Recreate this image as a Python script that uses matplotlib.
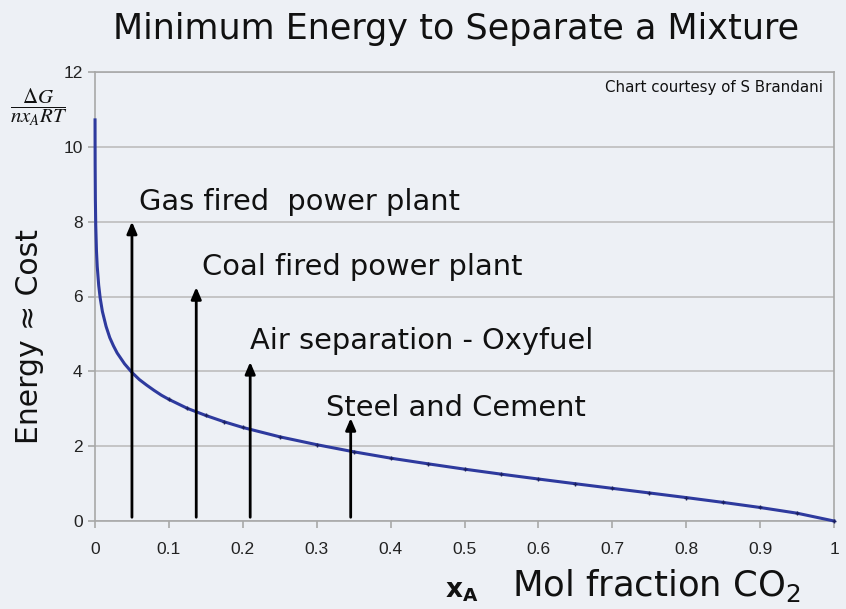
import matplotlib
matplotlib.use("Agg")
import matplotlib.pyplot as plt

# Curve values
x_vals = [0.00006, 0.0001, 0.0002, 0.0005, 0.001, 0.002, 0.003, 0.005, 0.007, 0.01,
          0.015, 0.02, 0.025, 0.03, 0.04, 0.05, 0.06, 0.07, 0.08, 0.09, 0.1,
          0.125, 0.15, 0.175, 0.2, 0.25, 0.3, 0.35, 0.4, 0.45, 0.5, 0.55, 0.6,
          0.65, 0.7, 0.75, 0.8, 0.85, 0.9, 0.95, 1.0]
y_vals = [10.72, 10.21, 9.52, 8.60, 7.91, 7.21, 6.81, 6.30, 5.96, 5.60,
          5.20, 4.90, 4.68, 4.49, 4.20, 3.97, 3.78, 3.63, 3.49, 3.36, 3.25,
          3.01, 2.82, 2.65, 2.50, 2.25, 2.04, 1.85, 1.68, 1.53, 1.386, 1.251, 1.122,
          0.996, 0.873, 0.750, 0.626, 0.497, 0.361, 0.209, 0.0]

# Annotated processes
labels = ["Gas fired  power plant", "Coal fired power plant",
          "Air separation - Oxyfuel", "Steel and Cement"]
arrow_x = [0.05, 0.137, 0.21, 0.346]
arrow_top = [8.0, 6.25, 4.25, 2.75]
label_x = [0.0595, 0.145, 0.21, 0.312]
label_y = [8.53, 6.79, 4.81, 3.02]

xticks = [0, 0.1, 0.2, 0.3, 0.4, 0.5, 0.6, 0.7, 0.8, 0.9, 1]
xticklabels = ["0", "0.1", "0.2", "0.3", "0.4", "0.5", "0.6", "0.7", "0.8", "0.9", "1"]
yticks = [0, 2, 4, 6, 8, 10, 12]

bg = "#EDF0F5"
W, H = 846, 609
fig = plt.figure(figsize=(W / 100, H / 100), dpi=100, facecolor=bg)
ax = fig.add_axes([95 / W, 1 - 521 / H, (834 - 95) / W, (521 - 72) / H], facecolor=bg)

ax.set_xlim(0, 1)
ax.set_ylim(0, 12)
ax.set_yticks(yticks)
ax.set_xticks(xticks)
ax.set_xticklabels(xticklabels)
ax.grid(axis="y", color="#BDBDBD", linewidth=1.2)
ax.set_axisbelow(True)
for s in ["left", "bottom", "right", "top"]:
    ax.spines[s].set_color("#A8A8A8")
    ax.spines[s].set_linewidth(1.2)
ax.tick_params(axis="both", colors="#A8A8A8", labelcolor="#222222",
               labelsize=12.5, length=5, width=1.2)
ax.tick_params(axis="x", pad=10)
ax.tick_params(axis="y", pad=4)
for t in ax.get_xticklabels() + ax.get_yticklabels():
    t.set_fontfamily("Liberation Sans")

ax.plot(x_vals, y_vals, color="#2E3A9E", linewidth=2.2, marker="+",
        markersize=3, markeredgecolor="#1A2060",
        markevery=list(range(20, len(x_vals))),
        clip_on=False, zorder=3)

for ax_, top, lx, ly, lab in zip(arrow_x, arrow_top, label_x, label_y, labels):
    ax.annotate("", xy=(ax_, top), xytext=(ax_, 0.1),
                arrowprops=dict(arrowstyle="-|>,head_length=0.7,head_width=0.3",
                                color="black", lw=2.0, shrinkA=0, shrinkB=0), zorder=4)
    ax.text(lx, ly, lab, fontsize=20.8, family="DejaVu Sans", va="center", ha="left",
            color="#111111")

ax.text(0.985, 0.965, "Chart courtesy of S Brandani", transform=ax.transAxes,
        ha="right", va="center", fontsize=10.8, family="DejaVu Sans", color="#111111")

fig.text(456 / W, 1 - 29 / H, "Minimum Energy to Separate a Mixture", ha="center",
         va="center", fontsize=25.2, family="DejaVu Sans", color="#111111")

fig.text(30 / W, 1 - 337 / H, "Energy ≈ Cost", rotation=90, ha="center", va="center",
         fontsize=21.5, family="DejaVu Sans", color="#111111")

fig.text(39 / W, 1 - 107 / H, r"$\dfrac{\Delta G}{n x_A RT}$", ha="center", va="center",
         fontsize=15, family="Liberation Serif", color="#111111",
         math_fontfamily="stix")

fig.text(462 / W, 1 - 591 / H, r"$\mathbf{x}_{\mathbf{A}}$", ha="center", va="center",
         fontsize=19, color="#111111", math_fontfamily="dejavusans")
fig.text(656 / W, 1 - 585 / H, r"Mol fraction CO$_2$", ha="center", va="center",
         fontsize=25.5, family="DejaVu Sans", color="#111111", math_fontfamily="dejavusans")

fig.savefig("out.png", dpi=100, facecolor=bg)
